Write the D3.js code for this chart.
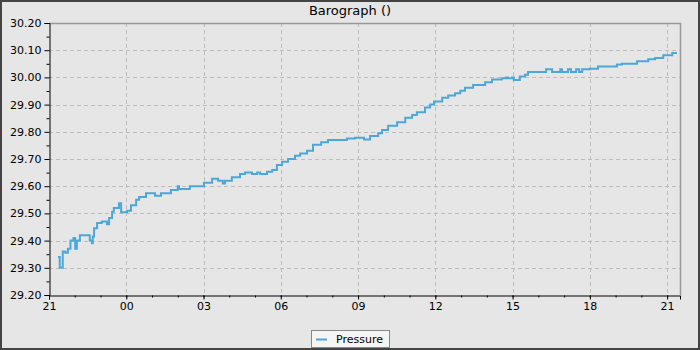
<!DOCTYPE html>
<html>
<head>
    <meta charset="UTF-8">
    <title>Barograph</title>
    <style type="text/css">
        body { margin: 0; background: #e6e6e6; }
        text { font-family: "DejaVu Sans", sans-serif; fill: #000; }
        .grid line { stroke: #bdbdbd; stroke-dasharray: 4,3; }
        .axis path, .axis line { stroke: #000; }
        .line { fill: none; stroke: #4ca7d9; stroke-width: 2px; }
    </style>
    <script src="https://d3js.org/d3.v7.min.js"></script>
</head>
<body>
<script type="text/javascript">
    // readings: clock time (day 1 = evening, day 2 = next day) and pressure in inHg
    var times = ["1 21:21", "1 21:25", "1 21:32", "1 21:38", "1 21:44", "1 21:50", "1 21:57", "1 22:01", "1 22:05", "1 22:12",
        "1 22:35", "1 22:40", "1 22:42", "1 22:45", "1 22:52", "1 23:03", "1 23:15", "1 23:20", "1 23:27", "1 23:31",
        "1 23:38", "1 23:43", "1 23:48", "2 00:02", "2 00:11", "2 00:23", "2 00:30", "2 00:46", "2 01:07", "2 01:21",
        "2 01:44", "2 02:00", "2 02:03", "2 02:28", "2 02:33", "2 03:01", "2 03:20", "2 03:34", "2 03:45", "2 03:50",
        "2 04:06", "2 04:25", "2 04:37", "2 04:53", "2 05:05", "2 05:12", "2 05:28", "2 05:40", "2 05:51", "2 06:03",
        "2 06:17", "2 06:33", "2 06:45", "2 07:01", "2 07:15", "2 07:34", "2 07:50", "2 08:34", "2 08:53", "2 09:14",
        "2 09:28", "2 09:47", "2 09:56", "2 10:10", "2 10:31", "2 10:50", "2 11:06", "2 11:17", "2 11:36", "2 11:48",
        "2 11:57", "2 12:16", "2 12:30", "2 12:46", "2 12:58", "2 13:09", "2 13:28", "2 13:56", "2 14:12", "2 14:35",
        "2 14:45", "2 14:49", "2 14:59", "2 15:03", "2 15:17", "2 15:29", "2 15:36", "2 16:18", "2 16:32", "2 16:51",
        "2 16:55", "2 17:09", "2 17:16", "2 17:28", "2 17:35", "2 17:42", "2 18:00", "2 18:19", "2 19:03", "2 19:15",
        "2 19:50", "2 20:16", "2 20:32", "2 20:51", "2 21:12", "2 21:23"];
    var pressure = [29.34, 29.30, 29.36, 29.355, 29.37, 29.40, 29.41, 29.37, 29.40, 29.42,
        29.40, 29.39, 29.415, 29.445, 29.465, 29.47, 29.46, 29.483, 29.506, 29.52,
        29.52, 29.537, 29.504, 29.51, 29.53, 29.55, 29.56, 29.574, 29.565, 29.574,
        29.586, 29.60, 29.59, 29.60, 29.60, 29.613, 29.627, 29.62, 29.61, 29.62,
        29.633, 29.645, 29.65, 29.645, 29.65, 29.645, 29.653, 29.66, 29.678, 29.69,
        29.70, 29.712, 29.72, 29.73, 29.752, 29.762, 29.77, 29.775, 29.778, 29.772,
        29.785, 29.795, 29.807, 29.822, 29.835, 29.852, 29.862, 29.872, 29.889, 29.90,
        29.911, 29.925, 29.933, 29.942, 29.951, 29.962, 29.972, 29.982, 29.992, 29.997,
        30.00, 29.997, 30.00, 29.99, 30.003, 30.01, 30.02, 30.03, 30.02, 30.03,
        30.02, 30.03, 30.02, 30.03, 30.02, 30.03, 30.032, 30.04, 30.047, 30.05,
        30.059, 30.067, 30.071, 30.081, 30.09, 30.09];
    var yTicks = [29.20, 29.30, 29.40, 29.50, 29.60, 29.70, 29.80, 29.90, 30.00, 30.10, 30.20];
    var seriesName = "Pressure";
    var chartTitle = "Barograph ()";

    var W = 700, H = 350;
    var margin = { top: 23, right: 20, bottom: 55, left: 49 },
        width = 680 - margin.left,
        height = 295 - margin.top;

    var parseTime = d3.timeParse("%d %H:%M");
    var data = times.map(function(t, i) {
        return { date: parseTime(t), value: pressure[i] };
    });

    var svg = d3.select("body").append("svg")
        .attr("width", W)
        .attr("height", H);

    // outer frame
    svg.append("rect")
        .attr("x", 1).attr("y", 1)
        .attr("width", W - 2).attr("height", H - 2)
        .attr("fill", "#e6e6e6")
        .attr("stroke", "#444").attr("stroke-width", 2);

    svg.append("text")
        .attr("x", W / 2).attr("y", 15)
        .attr("text-anchor", "middle")
        .style("font-size", "13px")
        .text(chartTitle);

    var g = svg.append("g")
        .attr("transform", "translate(" + margin.left + "," + margin.top + ")");

    var x = d3.scaleTime()
        .domain([parseTime("1 21:00"), parseTime("2 21:30")])
        .range([0, width]);
    var y = d3.scaleLinear()
        .domain([29.20, 30.20])
        .range([height, 0]);

    var majorX = x.ticks(d3.timeHour.every(3));
    var minorX = x.ticks(d3.timeHour.every(1));
    var minorY = d3.range(29.25, 30.2, 0.1);

    // grid
    g.append("g").attr("class", "grid")
        .selectAll("line").data(majorX.slice(1)).enter().append("line")
        .attr("x1", function(d) { return Math.round(x(d)) + 0.5; })
        .attr("x2", function(d) { return Math.round(x(d)) + 0.5; })
        .attr("y1", 0).attr("y2", height);
    g.append("g").attr("class", "grid")
        .selectAll("line").data(yTicks.slice(1, -1)).enter().append("line")
        .attr("y1", function(d) { return Math.round(y(d)) + 0.5; })
        .attr("y2", function(d) { return Math.round(y(d)) + 0.5; })
        .attr("x1", 0).attr("x2", width);

    // plot border (top and right)
    g.append("path")
        .attr("d", "M0.5,0.5H" + (width + 0.5) + "V" + (height + 0.5))
        .attr("fill", "none").attr("stroke", "#999").attr("stroke-width", 1.5);

    // axes
    var yAxis = g.append("g").attr("class", "axis")
        .attr("transform", "translate(0.5,0)")
        .call(d3.axisLeft(y).tickValues(yTicks).tickFormat(d3.format(".2f")).tickSize(5).tickPadding(3));
    yAxis.selectAll("text").style("font-size", "11px");
    yAxis.select(".domain").attr("stroke", "#888");
    g.append("g").attr("class", "axis")
        .attr("transform", "translate(0.5,0)")
        .call(d3.axisLeft(y).tickValues(minorY).tickFormat("").tickSize(3))
        .select(".domain").remove();

    var xAxis = g.append("g").attr("class", "axis")
        .attr("transform", "translate(0," + (height + 0.5) + ")")
        .call(d3.axisBottom(x).tickValues(majorX).tickFormat(d3.timeFormat("%H")).tickSize(4).tickPadding(3));
    xAxis.selectAll("text").style("font-size", "11px");
    xAxis.select(".domain").attr("stroke", "#888");
    g.append("g").attr("class", "axis")
        .attr("transform", "translate(0," + (height + 0.5) + ")")
        .call(d3.axisBottom(x).tickValues(minorX).tickFormat("").tickSize(2))
        .select(".domain").remove();

    // pressure line
    var valueline = d3.line()
        .curve(d3.curveStepAfter)
        .x(function(d) { return x(d.date); })
        .y(function(d) { return y(d.value); });
    g.append("path")
        .datum(data)
        .attr("class", "line")
        .attr("d", valueline);

    // legend
    var lg = svg.append("g").attr("transform", "translate(311,330)");
    lg.append("rect")
        .attr("x", 0.5).attr("y", 0.5)
        .attr("width", 78).attr("height", 17)
        .attr("fill", "#f5f5f5").attr("stroke", "#888");
    lg.append("line")
        .attr("x1", 5).attr("x2", 16).attr("y1", 9.5).attr("y2", 9.5)
        .attr("stroke", "#4ca7d9").attr("stroke-width", 2);
    lg.append("text")
        .attr("x", 25).attr("y", 13)
        .style("font-size", "11px")
        .text(seriesName);
</script>
</body>
</html>
